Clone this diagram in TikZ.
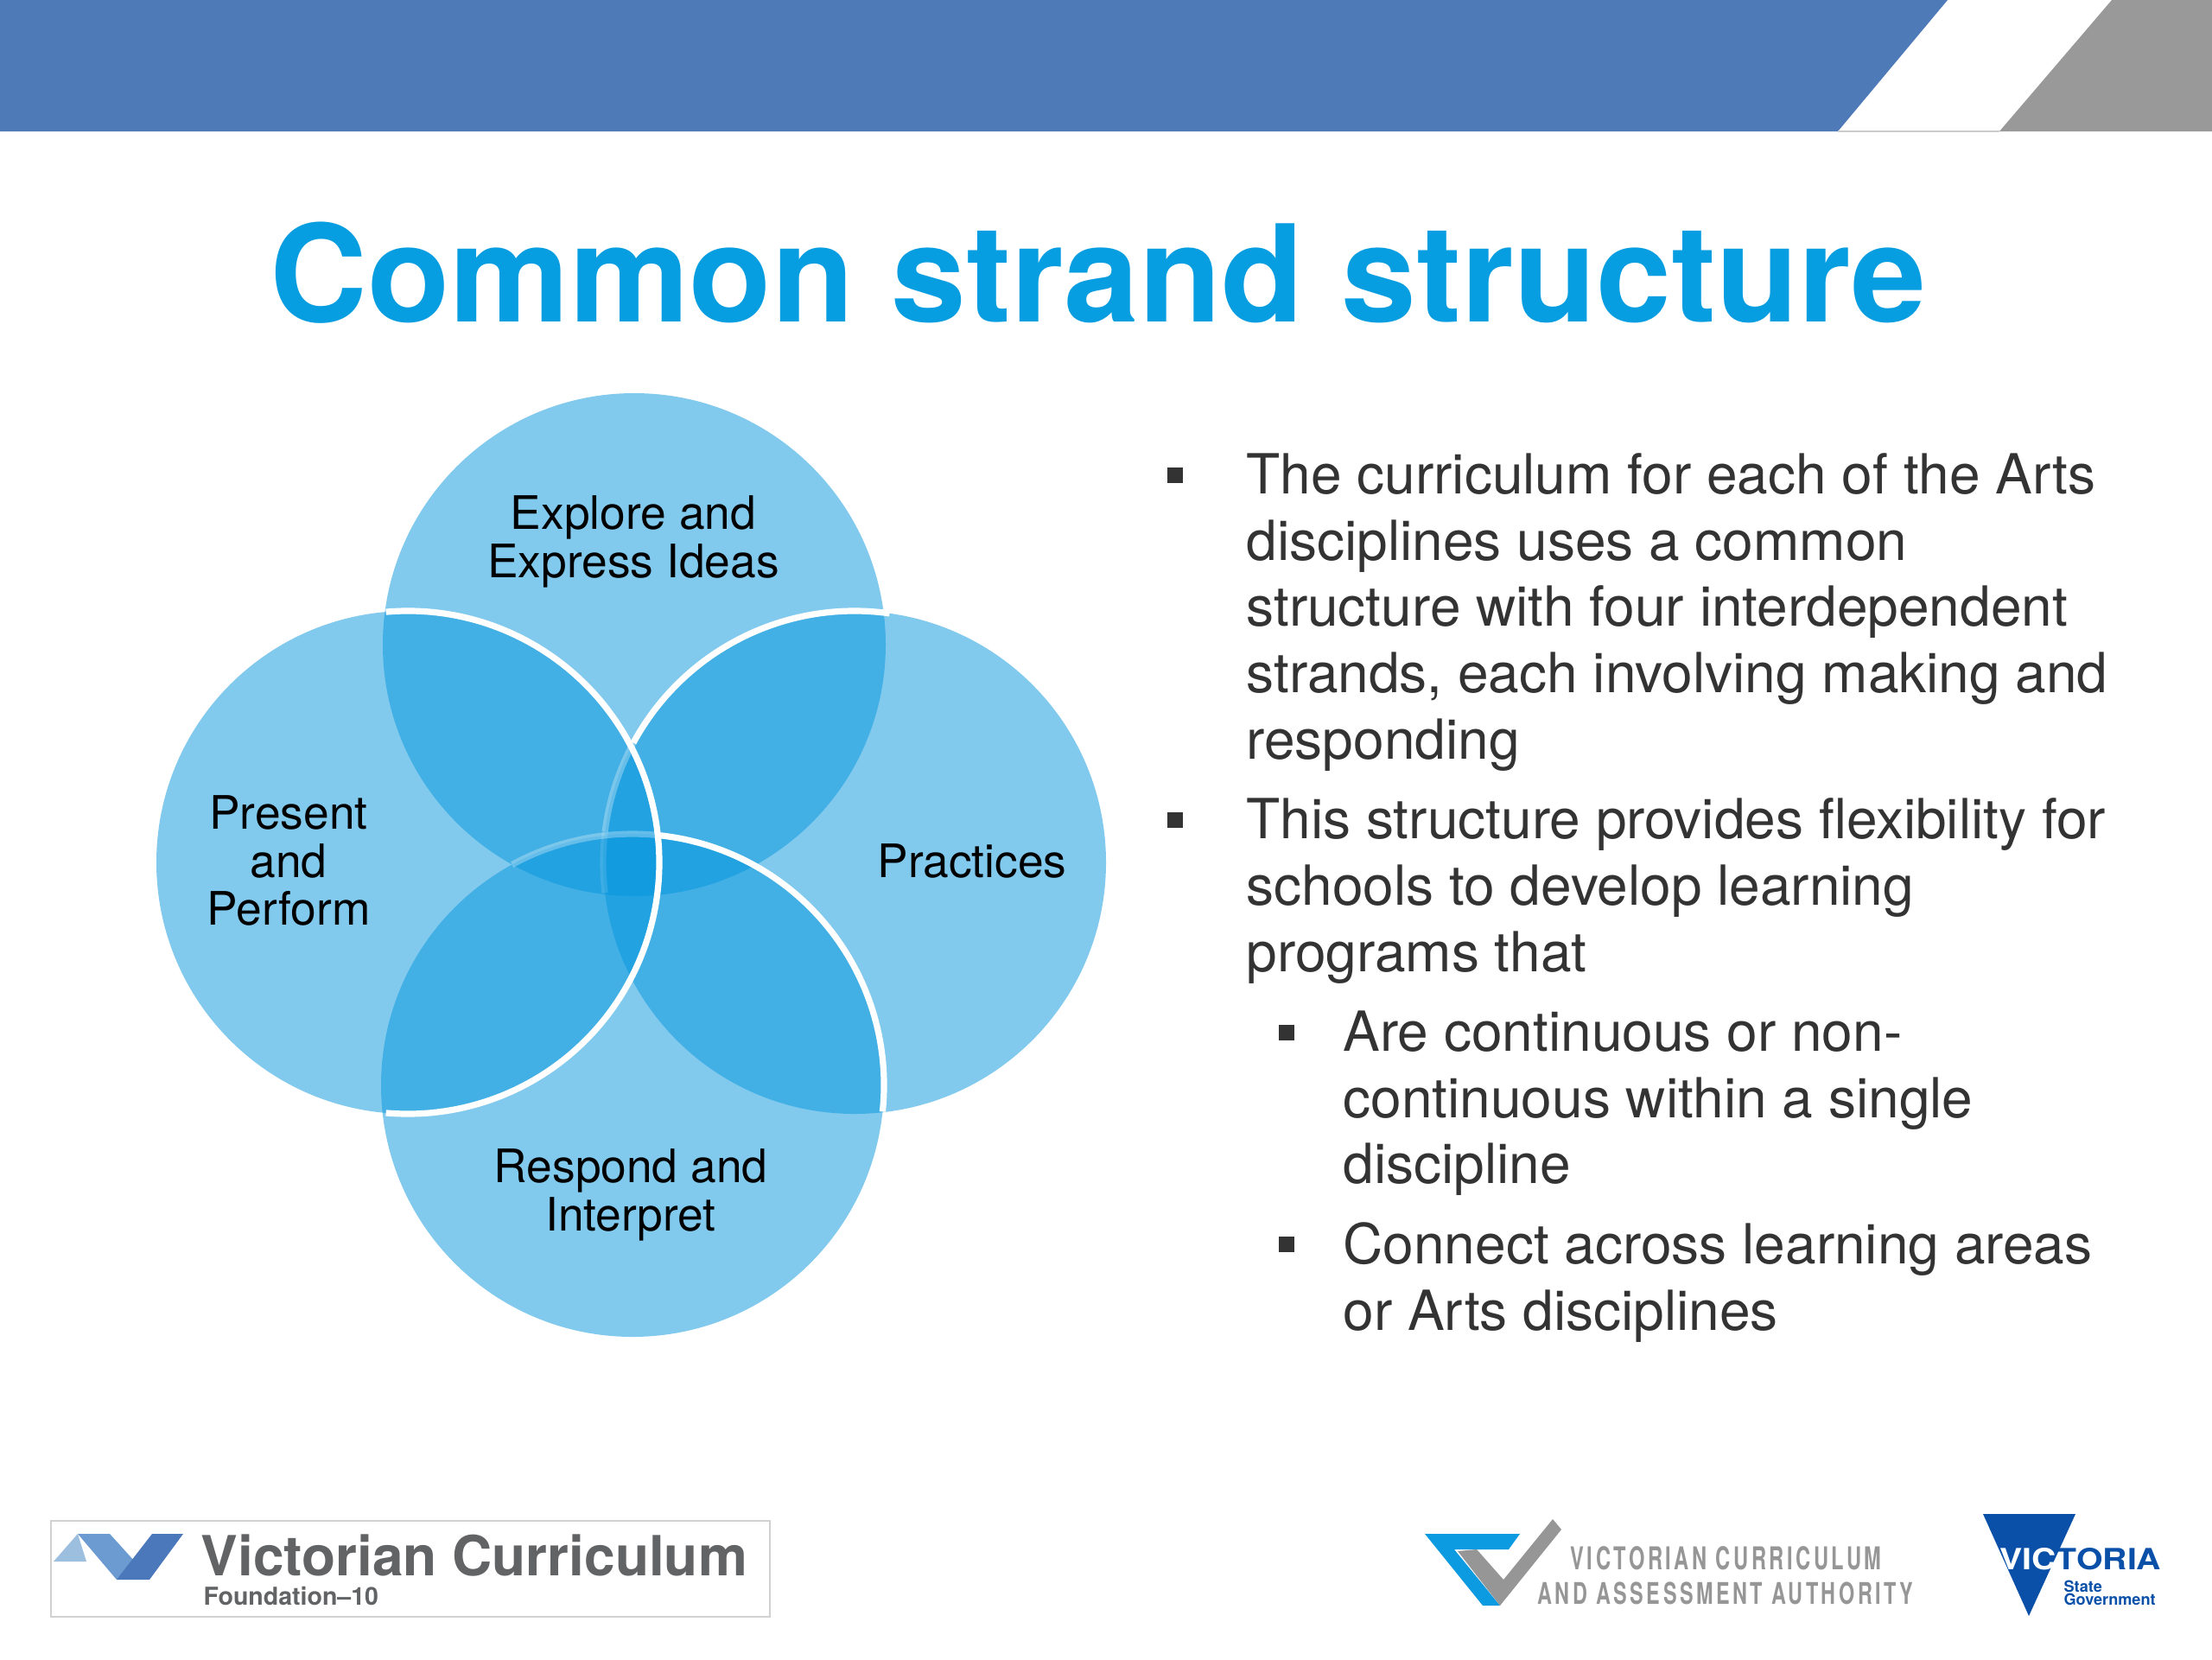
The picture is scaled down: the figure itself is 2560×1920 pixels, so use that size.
\documentclass[tikz,border=0pt]{standalone}
\usepackage{fontspec}
\usepackage{graphicx}
\setmainfont{TeX Gyre Heros}
\definecolor{band}{RGB}{79,122,184}
\definecolor{bandgrey}{RGB}{153,153,153}
\definecolor{venn}{RGB}{5,150,222}
\definecolor{titleblue}{RGB}{6,157,225}
\definecolor{bodytext}{RGB}{51,51,51}
\definecolor{logotext}{RGB}{98,99,101}
\definecolor{vcaagrey}{RGB}{150,150,150}
\definecolor{vcaablue}{RGB}{12,155,225}
\definecolor{vicblue}{RGB}{10,80,168}
\definecolor{vclight}{RGB}{156,191,224}
\definecolor{vcmid}{RGB}{108,155,210}
\definecolor{vcdark}{RGB}{74,120,186}
\tikzset{
  vennfill/.style={fill=venn,fill opacity=0.5,draw=none},
  vennedge/.style={draw=white,line width=2.7pt},
  vennlabel/.style={font=\fontsize{20}{20.8}\selectfont,text=black,align=center,inner sep=0pt},
  bodypara/.style={font=\fontsize{24}{28.8}\selectfont,text=bodytext,align=left,anchor=north west,inner sep=0pt},
  bulletmark/.style={fill=bodytext,draw=none,inner sep=0pt,minimum size=6.4pt,rectangle}
}
\begin{document}
\begin{tikzpicture}[x=0.375pt,y=-0.375pt]
\useasboundingbox (0,0) rectangle (2560,1920);
\fill[white] (0,0) rectangle (2560,1920);
% header band
\fill[band] (0,0) -- (2254,0) -- (2127,152) -- (0,152) -- cycle;
\fill[bandgrey] (2444,0) -- (2560,0) -- (2560,152) -- (2314,152) -- cycle;
\draw[black!20,line width=0.6pt] (2127,152) -- (2314,152);
% title
\node[anchor=base,inner sep=0pt,text=titleblue,font=\fontsize{58.5}{60}\selectfont\bfseries] (title) at (1271,372) {Common strand structure};
% venn
\coordinate (ctop) at (734,746);
\coordinate (cright) at (989,998);
\coordinate (cbottom) at (732,1256);
\coordinate (cleft) at (472,998);
\path[vennfill] (ctop) circle[radius=291];
\path[vennfill] (cright) circle[radius=291];
\path[vennfill] (cbottom) circle[radius=291];
\path[vennfill] (cleft) circle[radius=291];
% white edges (angles negated: y runs downward)
\draw[vennedge] (cright) ++(-82:291) arc[start angle=-82,end angle=-151.6,radius=291];
\draw[vennedge,opacity=0.3] (cright) ++(-151.6:291) arc[start angle=-151.6,end angle=-173,radius=291];
\draw[vennedge,opacity=0.12] (cright) ++(-173:291) arc[start angle=-173,end angle=-187,radius=291];
\draw[vennedge] (cbottom) ++(6:291) arc[start angle=6,end angle=-83.7,radius=291];
\draw[vennedge,opacity=0.3] (cbottom) ++(-83.7:291) arc[start angle=-83.7,end angle=-118.6,radius=291];
\draw[vennedge] (cleft) ++(-95:291) arc[start angle=-95,end angle=95,radius=291];
\node[vennlabel] (explore) at (733,627) {Explore and\\Express Ideas};
\node[vennlabel] (present) at (334,996) {Present\\and\\Perform};
\node[vennlabel] (practices) at (1125,996) {Practices};
\node[vennlabel] (respond) at (730,1383) {Respond and\\Interpret};
% body
\node[bulletmark] (b1) at (1360,550) {};
\node[bodypara] (p1) at (1442,524) {The curriculum for each of the Arts\\disciplines uses a common\\structure with four interdependent\\strands, each involving making and\\responding};
\node[bulletmark] (b2) at (1360,949) {};
\node[bodypara] (p2) at (1442,923) {This structure provides flexibility for\\schools to develop learning\\programs that};
\node[bulletmark] (b3) at (1489,1195) {};
\node[bodypara] (p3) at (1554,1169) {Are continuous or non-\\continuous within a single\\discipline};
\node[bulletmark] (b4) at (1489,1440) {};
\node[bodypara] (p4) at (1554,1414) {Connect across learning areas\\or Arts disciplines};
% left logo
\draw[black!18,line width=1pt,fill=white] (59,1760) rectangle (891,1871);
\fill[vclight] (62,1807) -- (90,1775) -- (100,1807) -- cycle;
\fill[vcmid] (90,1775) -- (127,1775) -- (156,1807) -- (135,1828) -- cycle;
\fill[vcdark] (176,1775) -- (212,1775) -- (173,1828) -- (135,1828) -- cycle;
\node[anchor=base west,inner sep=0pt,text=logotext,font=\fontsize{24}{24}\selectfont\bfseries] (vc) at (232,1823) {Victorian Curriculum};
\node[anchor=base west,inner sep=0pt,text=logotext,font=\fontsize{10.7}{11}\selectfont\bfseries] (f10) at (235,1857) {Foundation–10};
% VCAA logo
\fill[vcaablue] (1649,1775) -- (1759,1775) -- (1746,1793) -- (1683,1793) -- (1736,1858) -- (1716,1858) -- cycle;
\fill[vcaagrey] (1797,1758) -- (1807,1770) -- (1736,1858) -- (1687,1795) -- (1709,1793) -- (1740,1828) -- cycle;
\node[anchor=south west,inner sep=0pt,text=vcaagrey] (v1) at (1817,1817) {\resizebox{135pt}{10.1pt}{\addfontfeatures{LetterSpace=15}\bfseries VICTORIAN CURRICULUM}};
\node[anchor=south west,inner sep=0pt,text=vcaagrey] (v2) at (1779,1857) {\resizebox{163pt}{9.6pt}{\addfontfeatures{LetterSpace=15}\bfseries AND ASSESSMENT AUTHORITY}};
% Victoria logo
\fill[vicblue] (2295,1752) -- (2402,1752) -- (2348,1870) -- cycle;
\node[anchor=south west,inner sep=0pt] (vic) at (2314,1817) {\resizebox{70pt}{9.4pt}{\bfseries\textcolor{white}{VIC}\textcolor{vicblue}{TORIA}}};
\node[anchor=base west,inner sep=0pt,text=vicblue,align=left,font=\fontsize{6.8}{5.6}\selectfont\bfseries] (sg) at (2388,1857) {State\\Government};
\end{tikzpicture}
\end{document}
